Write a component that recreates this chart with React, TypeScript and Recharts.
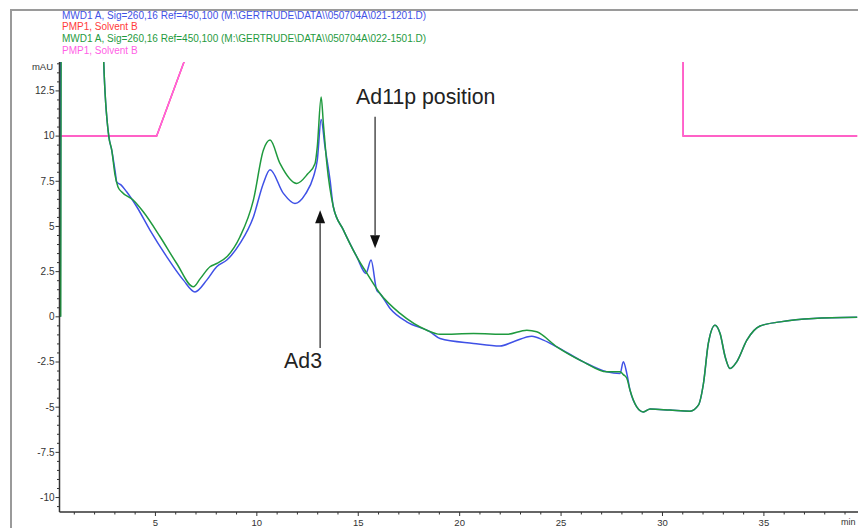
import { LineChart, Line, XAxis, YAxis, ReferenceLine } from "recharts";

const FONT = '"Liberation Sans", Arial, sans-serif';
const AXIS = "#333";
const BLUE = "#3f51e6";
const GREEN = "#1f9a3e";
const RED = "#ff3b3b";
const PINK = "#ff5fe6";

// MWD1 A run 021-1201 (blue)
const blueTime = [
  0.31, 0.37, 2.2, 2.45, 2.7, 2.85, 3.02, 3.09, 3.3, 3.58, 4.08, 4.73, 5.56, 6.38, 6.95, 7.53, 8.02, 8.52,
  9.17, 9.83, 10.32, 10.65, 11.31, 11.88, 12.4, 12.79, 12.98, 13.17, 13.36, 13.61, 13.77, 14.27, 14.93,
  15.38, 15.63, 15.91, 16.07, 16.57, 17.39, 18.54, 19.03, 20.68, 21.99, 22.65, 23.56, 24.13, 24.79, 26.1,
  27.25, 27.91, 28.07, 28.24, 28.4, 28.73, 29.06, 29.39, 30.37, 31.36, 31.77, 32.02, 32.26, 32.59, 32.84,
  33.09, 33.33, 33.66, 34.16, 34.81, 35.8, 37.44, 39.6,
];
const blueSignal = [
  0, 30, 30, 14.1, 10, 9.2, 8.0, 7.47, 7.3, 6.92, 6.09, 4.8, 3.32, 2.03, 1.38, 2.03, 2.77, 3.14,
  4.06, 5.53, 7.38, 8.14, 6.83, 6.27, 6.8, 7.75, 8.67, 10.92, 9.41, 7.56, 6.09, 4.8, 3.32,
  2.4, 3.14, 1.48, 1.29, 0.46, -0.28, -0.83, -1.2, -1.47, -1.62, -1.38, -1.07, -1.29, -1.66, -2.49,
  -3.04, -3.13, -2.49, -3.13, -4.06, -4.98, -5.26, -5.1, -5.16, -5.22, -4.89, -3.69, -1.47, -0.46, -0.92,
  -2.21, -2.86, -2.49, -1.29, -0.51, -0.28, -0.09, -0.03,
];

// MWD1 A run 022-1501 (green)
const greenTime = [
  0.33, 0.39, 2.2, 2.45, 2.7, 2.85, 3.0, 3.15, 3.33, 3.9, 4.4, 5.23, 6.05, 6.87, 7.2, 7.69, 8.02, 8.52,
  9.17, 9.83, 10.32, 10.65, 11.14, 11.97, 12.5, 12.87, 12.98, 13.17, 13.28, 13.45, 13.77, 14.27, 14.93,
  15.43, 16.07, 17.06, 18.38, 19.03, 20.68, 22.32, 23.31, 23.8, 24.79, 26.1, 27.25, 27.91, 28.07, 28.24,
  28.4, 28.73, 29.06, 29.39, 30.37, 31.36, 31.77, 32.02, 32.26, 32.59, 32.84, 33.09, 33.33, 33.66, 34.16,
  34.81, 35.8, 37.44, 39.6,
];
const greenSignal = [
  0, 30, 30, 14.1, 10, 9.2, 7.9, 7.2, 6.92, 6.46, 5.81, 4.43, 2.95, 1.66, 2.1, 2.77, 2.95, 3.32,
  4.43, 6.46, 9.22, 9.78, 8.49, 7.38, 7.9, 8.49, 9.41, 12.17, 10.7, 8.49, 6.09, 4.8, 3.32,
  2.4, 1.29, 0.19, -0.74, -0.97, -0.92, -0.97, -0.74, -0.83, -1.66, -2.49, -3.04, -3.04, -3.2, -3.4,
  -4.06, -4.98, -5.26, -5.1, -5.16, -5.22, -4.89, -3.69, -1.47, -0.46, -0.92, -2.21, -2.86, -2.49, -1.29,
  -0.51, -0.28, -0.09, -0.03,
];

// PMP1 Solvent B gradient (both runs)
const solventTime = [0.27, 5.06, 21.5, 30.98, 31.02, 39.6];
const solventValue = [10, 10, 60, 60, 10, 10];

const yLabelTicks = [-10, -7.5, -5, -2.5, 0, 2.5, 5, 7.5, 10, 12.5];
const xLabelTicks = [5, 10, 15, 20, 25, 30, 35];

const legendLines = [
  { text: "MWD1 A, Sig=260,16 Ref=450,100 (M:\\GERTRUDE\\DATA\\\\050704A\\021-1201.D)", color: BLUE },
  { text: "PMP1, Solvent B", color: RED },
  { text: "MWD1 A, Sig=260,16 Ref=450,100 (M:\\GERTRUDE\\DATA\\\\050704A\\022-1501.D)", color: GREEN },
  { text: "PMP1, Solvent B", color: PINK },
];

const toPoints = (ts: number[], vs: number[]) => ts.map((t, i) => ({ t, v: vs[i] }));
const blueData = toPoints(blueTime, blueSignal);
const greenData = toPoints(greenTime, greenSignal);
const solventData = toPoints(solventTime, solventValue);

const yTicks: number[] = [];
for (let v = -10.5; v <= 14; v += 0.5) yTicks.push(Math.round(v * 10) / 10);
const xTicks: number[] = [];
for (let t = 1; t <= 39; t++) xTicks.push(t);

function YTick({ x, y, payload }: any) {
  const v = payload.value;
  const major = yLabelTicks.includes(v);
  return (
    <g>
      <line x1={x} x2={x - (major ? 4 : 2.5)} y1={y} y2={y} stroke={AXIS} strokeWidth={1} />
      {major && (
        <text x={x - 5} y={y} dy={3.4} textAnchor="end" fontSize={10} fontFamily={FONT} fill="#333">
          {v}
        </text>
      )}
    </g>
  );
}

function XTick({ x, y, payload }: any) {
  const v = payload.value;
  const major = xLabelTicks.includes(v);
  return (
    <g>
      <line x1={x} x2={x} y1={y} y2={y + (major ? 4 : 2.5)} stroke={AXIS} strokeWidth={1} />
      {major && (
        <text x={x} y={y + 14} textAnchor="middle" fontSize={9.5} fontFamily={FONT} fill="#333">
          {v}
        </text>
      )}
    </g>
  );
}

const arrow = (label: string, dx: number, dy: number) => (p: any) => {
  const { x1, y1, x2, y2 } = p;
  const dir = Math.sign(y2 - y1);
  const head = 13;
  const base = y2 - dir * head;
  return (
    <g>
      <line x1={x1} y1={y1} x2={x2} y2={base} stroke="#333" strokeWidth={1.3} />
      <polygon points={`${x2 - 5},${base} ${x2 + 5},${base} ${x2},${y2}`} fill="#111" />
      <text x={x1 + dx} y={y1 + dy} fontSize={21.3} fontFamily={FONT} fill="#222">
        {label}
      </text>
    </g>
  );
};

export default function App() {
  return (
    <div
      style={{
        position: "absolute",
        left: 0,
        top: 0,
        width: 858,
        height: 528,
        overflow: "hidden",
        background: "#fff",
        fontFamily: FONT,
      }}
    >
      <div
        style={{
          position: "absolute",
          left: 10,
          top: 9,
          width: 900,
          height: 600,
          borderLeft: "2px solid #9a9a9a",
          borderTop: "2px solid #9a9a9a",
        }}
      />
      <div style={{ position: "absolute", left: 0, top: 0 }}>
        <LineChart width={858} height={528} margin={{ top: 62, right: 0, bottom: 0, left: 14.5 }}>
          <XAxis
            dataKey="t"
            type="number"
            domain={[0.27, 39.64]}
            allowDataOverflow
            ticks={xTicks}
            interval={0}
            tick={<XTick />}
            tickLine={false}
            tickSize={0}
            tickMargin={0}
            height={16}
            axisLine={{ stroke: AXIS, strokeWidth: 1.5 }}
          />
          <YAxis
            type="number"
            domain={[-10.8, 14.1]}
            allowDataOverflow
            ticks={yTicks}
            interval={0}
            tick={<YTick />}
            tickLine={false}
            tickSize={0}
            tickMargin={0}
            width={45}
            axisLine={{ stroke: AXIS, strokeWidth: 1.5 }}
          />
          <Line data={solventData} dataKey="v" type="linear" stroke={RED} strokeWidth={1.5} dot={false} isAnimationActive={false} />
          <Line data={solventData} dataKey="v" type="linear" stroke={PINK} strokeWidth={1.5} dot={false} isAnimationActive={false} />
          <Line data={blueData} dataKey="v" type="monotone" stroke={BLUE} strokeWidth={1.5} dot={false} isAnimationActive={false} />
          <Line data={greenData} dataKey="v" type="monotone" stroke={GREEN} strokeWidth={1.5} dot={false} isAnimationActive={false} />
          <ReferenceLine
            segment={[{ x: 15.83, y: 11.07 }, { x: 15.83, y: 3.79 }]}
            shape={arrow("Ad11p position", -19, -13)}
          />
          <ReferenceLine
            segment={[{ x: 13.12, y: -1.73 }, { x: 13.12, y: 5.9 }]}
            shape={arrow("Ad3", -36, 20)}
          />
        </LineChart>
      </div>
      <div style={{ position: "absolute", left: 62, top: 9.5, fontSize: 10, lineHeight: "11.67px", whiteSpace: "nowrap" }}>
        {legendLines.map((l, i) => (
          <div key={i} style={{ color: l.color }}>
            {l.text}
          </div>
        ))}
      </div>
      <div style={{ position: "absolute", left: 0, width: 53, top: 61, fontSize: 9.5, textAlign: "right", color: "#333" }}>
        mAU
      </div>
      <div style={{ position: "absolute", left: 841, top: 517, fontSize: 9, color: "#333" }}>min</div>
    </div>
  );
}
